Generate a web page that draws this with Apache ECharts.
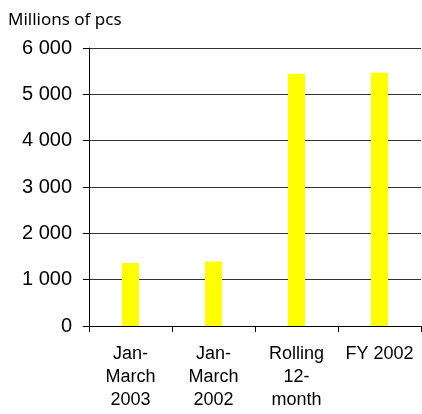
<!DOCTYPE html>
<html>
<head>
<meta charset="utf-8">
<script src="https://cdn.jsdelivr.net/npm/echarts@6/dist/echarts.min.js"></script>
<style>
  html, body { margin: 0; padding: 0; background: #fff; }
  #chart { width: 422px; height: 414px; }
</style>
</head>
<body>
<div id="chart"></div>
<script>
// Volumes in millions of pieces
const categories = ['Jan-\nMarch\n2003', 'Jan-\nMarch\n2002', 'Rolling\n12-\nmonth', 'FY 2002'];
const volumes = [1360, 1390, 5445, 5465];
const yTicks = { min: 0, max: 6000, interval: 1000 };

const chart = echarts.init(document.getElementById('chart'), null, { renderer: 'canvas' });

chart.setOption({
  animation: false,
  backgroundColor: '#ffffff',
  title: {
    text: 'Millions of pcs',
    left: 3,
    top: 7,
    textStyle: { fontFamily: 'Noto Sans', fontSize: 17, fontWeight: 'normal', color: '#000' }
  },
  grid: { left: 89, right: 1, top: 48, bottom: 88, containLabel: false },
  xAxis: {
    type: 'category',
    data: categories,
    axisLine: { lineStyle: { color: '#000', width: 1 } },
    axisTick: { show: true, length: 6, lineStyle: { color: '#000' } },
    axisLabel: {
      margin: 17,
      fontFamily: 'Liberation Sans',
      fontSize: 18,
      lineHeight: 23,
      color: '#000',
      interval: 0
    }
  },
  yAxis: {
    type: 'value',
    min: yTicks.min,
    max: yTicks.max,
    interval: yTicks.interval,
    axisLine: { show: true, lineStyle: { color: '#000', width: 1 } },
    axisTick: { show: true, length: 6, lineStyle: { color: '#000' } },
    splitLine: { show: true, lineStyle: { color: '#333', width: 1 } },
    axisLabel: {
      margin: 17,
      fontFamily: 'Liberation Sans',
      fontSize: 20,
      color: '#000',
      formatter: v => v === 0 ? '0' : String(v).replace(/\B(?=(\d{3})+(?!\d))/g, ' ')
    }
  },
  series: [{
    type: 'bar',
    data: volumes,
    barWidth: 17,
    itemStyle: { color: '#ffff00' }
  }]
});
</script>
</body>
</html>
